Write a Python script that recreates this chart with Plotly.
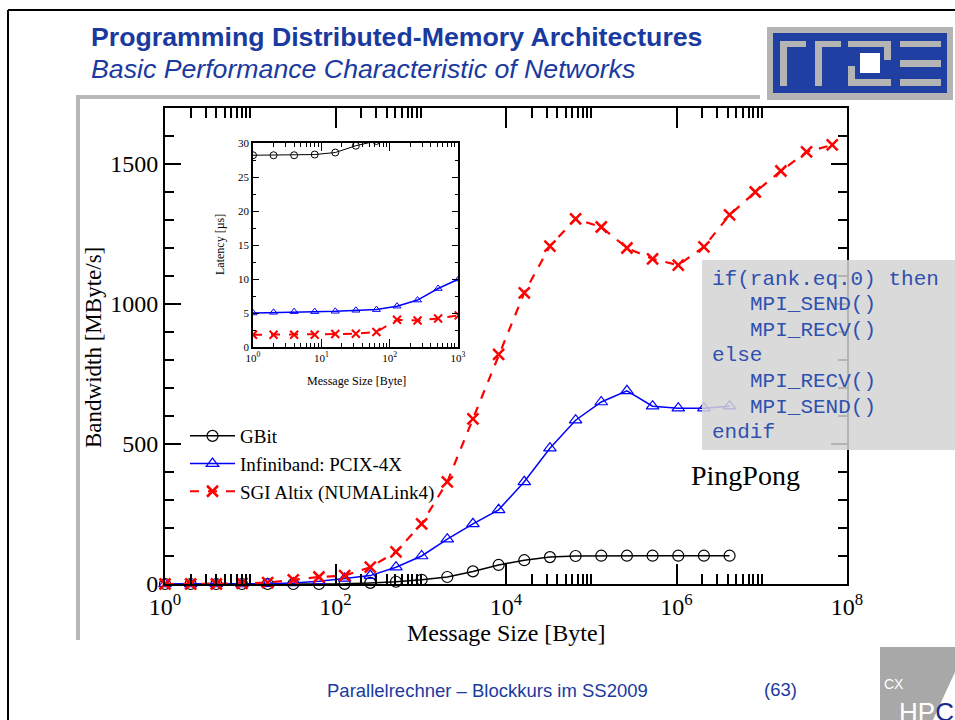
import plotly.graph_objects as go

# message sizes [Byte] (powers of two as measured)
sizes = [1, 2, 4, 8, 16, 32, 64, 128, 256, 512, 1024, 2048, 4096, 8192,
         16384, 32768, 65536, 131072, 262144, 524288, 1048576, 2097152,
         4194304, 8388608, 16777216, 33554432, 67108864]

# bandwidth [MByte/s]
bw_gbit = [0, 0, 0, 0, 0, 0, 0, 0.5, 4, 8, 15, 25, 45, 68, 85, 96, 100,
           101, 101, 101, 101, 101, 101]
bw_ib = [0, 0, 0, 0, 1, 4, 10, 20, 30, 60, 100, 160, 215, 265, 365, 485,
         585, 650, 690, 635, 628, 628, 635]
bw_sgi = [0, 0, 0, 2, 5, 15, 25, 30, 60, 115, 215, 365, 590, 820, 1040,
          1207, 1304, 1275, 1200, 1161, 1139, 1204, 1318, 1400, 1475, 1543,
          1568]

# latency inset [us]
lat_gbit = [28.2, 28.2, 28.2, 28.3, 28.6, 29.6, 30.3, 31.5]
lat_ib = [5.0, 5.1, 5.2, 5.2, 5.25, 5.4, 5.5, 6.0, 6.9, 8.6, 10.0]
lat_sgi = [1.8, 1.8, 1.8, 1.8, 1.9, 1.95, 2.2, 4.0, 3.9, 4.2, 4.65]

names = ["GBit", "Infiniband: PCIX-4X", "SGI Altix (NUMALink4)"]
code_lines = ["if(rank.eq.0) then", "MPI_SEND()", "MPI_RECV()", "else",
              "MPI_RECV()", "MPI_SEND()", "endif"]
code_indent = [0, 1, 1, 0, 1, 1, 0]

x_ticks = [1, 1e2, 1e4, 1e6, 1e8]
x_ticktext = ["10<sup>0</sup>", "10<sup>2</sup>", "10<sup>4</sup>",
              "10<sup>6</sup>", "10<sup>8</sup>"]
x_minor = [m * 10 ** e for e in (0, 2, 4, 6) for m in range(2, 11)]
in_ticks = [1, 10, 100, 1000]
in_ticktext = ["10<sup>0</sup>", "10<sup>1</sup>", "10<sup>2</sup>",
               "10<sup>3</sup>"]
in_minor = [m * 10 ** e for e in (0, 1, 2) for m in range(2, 10)]

SERIF = "Liberation Serif, Times New Roman, serif"
SANS = "Liberation Sans, Arial, sans-serif"
BLUE_TXT = "#1a3aa0"

# plot area in pixels
L, R, T, B = 165, 847, 108, 584


def X(px):
    return (px - L) / (R - L)


def Y(py):
    return (B - py) / (B - T)


fig = go.Figure()

fig.add_trace(go.Scatter(x=sizes[:len(bw_gbit)], y=bw_gbit, name=names[0],
                         mode="lines+markers", cliponaxis=False,
                         line=dict(color="black", width=1.5),
                         marker=dict(symbol="circle-open", size=11,
                                     color="black", line=dict(width=1.2))))
fig.add_trace(go.Scatter(x=sizes[:len(bw_ib)], y=bw_ib, name=names[1],
                         mode="lines+markers", cliponaxis=False,
                         line=dict(color="#0000ff", width=1.5),
                         marker=dict(symbol="triangle-up-open", size=11,
                                     color="#0000ff", line=dict(width=1.2))))
fig.add_trace(go.Scatter(x=sizes[:len(bw_sgi)], y=bw_sgi, name=names[2],
                         mode="lines+markers", cliponaxis=False,
                         line=dict(color="#ff0000", width=2.2, dash="dash"),
                         marker=dict(symbol="x-thin-open", size=11,
                                     color="#ff0000",
                                     line=dict(width=2.5, color="#ff0000"))))

# inset
fig.add_trace(go.Scatter(x=sizes[:len(lat_gbit)], y=lat_gbit,
                         xaxis="x2", yaxis="y2", showlegend=False,
                         mode="lines+markers",
                         line=dict(color="black", width=1),
                         marker=dict(symbol="circle-open", size=7,
                                     color="black", line=dict(width=1))))
fig.add_trace(go.Scatter(x=sizes[:len(lat_ib)], y=lat_ib,
                         xaxis="x2", yaxis="y2", showlegend=False,
                         mode="lines+markers",
                         line=dict(color="#0000ff", width=1.5),
                         marker=dict(symbol="triangle-up-open", size=7,
                                     color="#0000ff", line=dict(width=1))))
fig.add_trace(go.Scatter(x=sizes[:len(lat_sgi)], y=lat_sgi,
                         xaxis="x2", yaxis="y2", showlegend=False,
                         mode="lines+markers",
                         line=dict(color="#ff0000", width=2, dash="dash"),
                         marker=dict(symbol="x-thin-open", size=8,
                                     color="#ff0000",
                                     line=dict(width=2, color="#ff0000"))))

frame = dict(showline=True, linecolor="black", linewidth=2, mirror="allticks",
             showgrid=False, zeroline=False, ticks="inside",
             tickcolor="black", tickwidth=1.5)

fig.update_layout(
    width=955, height=720, autosize=False,
    margin=dict(l=L, r=955 - R, t=T, b=720 - B, pad=0),
    paper_bgcolor="white", plot_bgcolor="white",
    font=dict(family=SERIF, color="black"),
    xaxis=dict(type="log", range=[0, 8], tickvals=x_ticks,
               ticktext=x_ticktext, ticklen=20, tickfont=dict(size=24),
               minor=dict(tickvals=x_minor, ticks="inside", ticklen=10,
                          tickcolor="black", tickwidth=1.5),
               **frame),
    yaxis=dict(range=[0, 1700], tickvals=[0, 500, 1000, 1500], ticklen=16,
               tickfont=dict(size=24),
               minor=dict(dtick=100, ticks="inside", ticklen=9,
                          tickcolor="black", tickwidth=1.5),
               **frame),
    xaxis2=dict(type="log", range=[0, 3], domain=[X(253), X(458)],
                anchor="y2", tickvals=in_ticks, ticktext=in_ticktext,
                ticklen=8, tickfont=dict(size=11),
                minor=dict(tickvals=in_minor, ticks="inside", ticklen=4,
                           tickcolor="black", tickwidth=1),
                **{**frame, "linewidth": 1.5, "tickwidth": 1}),
    yaxis2=dict(range=[0, 30], domain=[Y(347), Y(143)], anchor="x2",
                tickvals=[0, 5, 10, 15, 20, 25, 30], ticklen=6,
                tickfont=dict(size=11),
                minor=dict(dtick=2.5, ticks="inside", ticklen=3,
                           tickcolor="black", tickwidth=1),
                **{**frame, "linewidth": 1.5, "tickwidth": 1}),
    legend=dict(x=X(185), y=Y(417), xanchor="left", yanchor="top",
                bgcolor="rgba(0,0,0,0)", font=dict(size=19, family=SERIF),
                itemwidth=45, tracegroupgap=0),
    showlegend=True,
)

shapes = []
# slide border and gray frame lines
shapes.append(dict(type="line", xref="paper", yref="paper", x0=X(8), x1=X(8),
                   y0=Y(10), y1=Y(722), line=dict(color="black", width=2)))
shapes.append(dict(type="line", xref="paper", yref="paper", x0=X(8),
                   x1=X(957), y0=Y(10), y1=Y(10),
                   line=dict(color="black", width=2)))
shapes.append(dict(type="line", xref="paper", yref="paper", x0=X(78),
                   x1=X(760), y0=Y(97), y1=Y(97),
                   line=dict(color="#b8b8b8", width=4)))
shapes.append(dict(type="line", xref="paper", yref="paper", x0=X(78),
                   x1=X(78), y0=Y(95), y1=Y(640),
                   line=dict(color="#b8b8b8", width=4)))

# rrze logo
LOGO_BLUE = "#1f3fa3"
LOGO_GRAY = "#b4b4b4"
shapes.append(dict(type="rect", xref="paper", yref="paper", x0=X(767),
                   x1=X(953), y0=Y(100), y1=Y(27), fillcolor=LOGO_GRAY,
                   line=dict(width=0)))
shapes.append(dict(type="rect", xref="paper", yref="paper", x0=X(773),
                   x1=X(947), y0=Y(93), y1=Y(33), fillcolor=LOGO_BLUE,
                   line=dict(width=0)))
logo_parts = [
    (780, 787, 41, 86), (780, 806, 41, 47),          # r
    (815, 822, 41, 86), (815, 841, 41, 47),          # r
    (848, 891, 41, 47), (884, 891, 41, 60),          # z top
    (848, 855, 66, 86), (848, 891, 79, 86),          # z bottom
    (900, 941, 41, 47), (900, 941, 60, 67), (900, 941, 79, 86),  # e
]
for x0, x1, y0, y1 in logo_parts:
    shapes.append(dict(type="rect", xref="paper", yref="paper", x0=X(x0),
                       x1=X(x1), y0=Y(y1), y1=Y(y0), fillcolor=LOGO_GRAY,
                       line=dict(width=0)))
shapes.append(dict(type="rect", xref="paper", yref="paper", x0=X(860),
                   x1=X(880), y0=Y(73), y1=Y(53), fillcolor="white",
                   line=dict(width=0)))

# code box
shapes.append(dict(type="rect", xref="paper", yref="paper", x0=X(702),
                   x1=X(955), y0=Y(450), y1=Y(260), layer="above",
                   fillcolor="rgba(212,212,212,0.85)", line=dict(width=0)))

# HPC logo corner
pts = [(880, 647), (955, 647), (955, 672), (932, 722), (880, 722)]
path = "M " + " L ".join(f"{X(a)},{Y(b)}" for a, b in pts) + " Z"
shapes.append(dict(type="path", xref="paper", yref="paper", path=path,
                   fillcolor="#a8a8a8", line=dict(width=0)))

fig.update_layout(shapes=shapes)

ann = []
ann.append(dict(text="<b>Programming Distributed-Memory Architectures</b>",
                x=X(89), y=Y(37), xanchor="left", yanchor="middle",
                font=dict(family=SANS, size=26.7, color=BLUE_TXT)))
ann.append(dict(text="<i>Basic Performance Characteristic of Networks</i>",
                x=X(89), y=Y(69), xanchor="left", yanchor="middle",
                font=dict(family=SANS, size=26.7, color=BLUE_TXT)))
ann.append(dict(text="Bandwidth [MByte/s]", x=X(93), y=Y(348),
                textangle=-90, xanchor="center", yanchor="middle",
                font=dict(family=SERIF, size=23)))
ann.append(dict(text="Message Size [Byte]", x=X(506), y=Y(633),
                xanchor="center", yanchor="middle",
                font=dict(family=SERIF, size=24)))
ann.append(dict(text="Latency [µs]", x=X(220), y=Y(245), textangle=-90,
                xanchor="center", yanchor="middle",
                font=dict(family=SERIF, size=12)))
ann.append(dict(text="Message Size [Byte]", x=X(356), y=Y(381),
                xanchor="center", yanchor="middle",
                font=dict(family=SERIF, size=12)))
ann.append(dict(text="PingPong", x=X(745), y=Y(475), xanchor="center",
                yanchor="middle", font=dict(family=SERIF, size=28)))
for i, (line, ind) in enumerate(zip(code_lines, code_indent)):
    ann.append(dict(text=line, x=X(710 + 38 * ind), y=Y(279 + 25.6 * i),
                    xanchor="left", yanchor="middle",
                    font=dict(family="Liberation Mono, Courier New, monospace",
                              size=21, color="#3050b0")))
ann.append(dict(text="Parallelrechner – Blockkurs im SS2009", x=X(487),
                y=Y(690), xanchor="center", yanchor="middle",
                font=dict(family=SANS, size=18.5, color=BLUE_TXT)))
ann.append(dict(text="(63)", x=X(780), y=Y(689), xanchor="center",
                yanchor="middle", font=dict(family=SANS, size=18.5,
                                            color=BLUE_TXT)))
ann.append(dict(text="CX", x=X(894), y=Y(684), xanchor="center",
                yanchor="middle", font=dict(family=SANS, size=14,
                                            color="white")))
ann.append(dict(text="HP<span style='color:#1a2a8a'>C</span>", x=X(897),
                y=Y(712), xanchor="left", yanchor="middle",
                font=dict(family=SANS, size=26, color="white")))
for a in ann:
    a.update(xref="paper", yref="paper", showarrow=False)
fig.update_layout(annotations=ann)

fig.write_html("out.html", config={"displayModeBar": False},
               post_script="document.body.style.margin='0px';")
